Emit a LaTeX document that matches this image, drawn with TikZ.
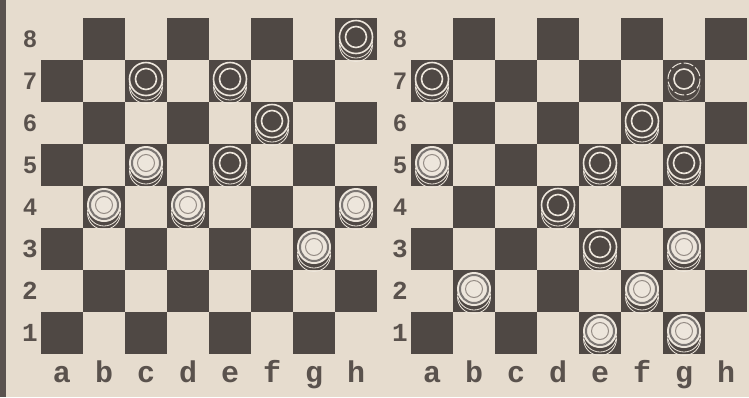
\documentclass[tikz,border=0pt]{standalone}
\usepackage{fontspec}
\newfontfamily\rankfont{Liberation Sans Bold}
\newfontfamily\filefont{Liberation Mono Bold}
\usepackage{xcolor}
\definecolor{Paper}{HTML}{E6DCCE}
\definecolor{Ink}{HTML}{4F4844}
\definecolor{Edge}{HTML}{5A534F}
\definecolor{Ring}{HTML}{EDE6DC}
\definecolor{RingGrey}{HTML}{958C85}
\definecolor{Label}{HTML}{5A524D}
\usetikzlibrary{calc}

% pieces, drawn round the centre of a square (1 unit = 1px, y down)
\newcommand{\blackpiece}[2]{%
  \begin{scope}[shift={({#1},{#2})}]
    \draw[stackarc] (16.5,6) arc[start angle=0,end angle=180,radius=16.5];
    \draw[stackarc] (16.5,2.5) arc[start angle=0,end angle=180,radius=16.5];
    \fill[Ink] (0,-2) circle (16.5);
    \draw[ring] (0,-2) circle (16.5);
    \draw[ring] (0,-2) circle (10.5);
  \end{scope}}
\newcommand{\whitepiece}[2]{%
  \begin{scope}[shift={({#1},{#2})}]
    \draw[stackarc] (16.5,6) arc[start angle=0,end angle=180,radius=16.5];
    \draw[stackarc] (16.5,2.5) arc[start angle=0,end angle=180,radius=16.5];
    \fill[Ring] (0,-2) circle (17);
    \draw[Ink!75,line width=2pt] (0,-2) circle (14);
    \draw[RingGrey,line width=1pt] (0,-2) circle (8.5);
  \end{scope}}
\newcommand{\ghostpiece}[2]{%
  \begin{scope}[shift={({#1},{#2})}]
    \draw[stackarc,Ring!60!Ink] (16,4) arc[start angle=0,end angle=180,radius=16];
    \draw[ring,line width=1pt,dash pattern=on 10pt off 2.5pt] (0,-2) circle (16);
    \draw[ring] (0,-2) circle (10);
  \end{scope}}

\begin{document}
\begin{tikzpicture}[x=1pt,y=-1pt,
  darksq/.style={fill=Ink},
  ring/.style={draw=Ring,line width=1.6pt},
  stackarc/.style={draw=Ring,line width=0.8pt},
  ranklab/.style={font=\rankfont\fontsize{24}{24}\selectfont,text=Label,inner sep=0pt},
  ranklabmono/.style={font=\filefont\fontsize{26}{26}\selectfont,text=Label,inner sep=0pt},
  filelab/.style={font=\filefont\fontsize{30}{30}\selectfont,text=Label,inner sep=0pt,anchor=base}
]
  \useasboundingbox (0,0) rectangle (749,397);
  \fill[Paper] (0,0) rectangle (749,397);
  \fill[Edge] (0,0) rectangle (6,397);

  % the two boards, a1 dark
  \foreach \bx/\bn in {41/L,411/R} {
    \foreach \i in {1,...,8} {
      \foreach \r in {1,...,8} {
        \pgfmathtruncatemacro{\odd}{mod(\i+\r,2)}
        \ifnum\odd=0
          \fill[darksq] ({\bx+(\i-1)*42},{18+(8-\r)*42}) rectangle ++(42,42);
        \fi
      }
    }
    \foreach \r in {4,...,8}
      \node[ranklab] (\bn-rank-\r) at ({\bx-11},{375-42*\r}) {\r};
    \foreach \r in {1,2,3}
      \node[ranklabmono] (\bn-rank-\r) at ({\bx-11},{375-42*\r}) {\r};
    \foreach \f [count=\i] in {a,b,c,d,e,f,g,h}
      \node[filelab] (\bn-file-\f) at ({\bx+(\i-0.5)*42},382) {\f};
  }

  % left board
  \foreach \i/\r in {8/8,3/7,5/7,6/6,5/5}
    {\blackpiece{41+(\i-0.5)*42}{375-42*\r}}
  \foreach \i/\r in {3/5,2/4,4/4,8/4,7/3}
    {\whitepiece{41+(\i-0.5)*42}{375-42*\r}}

  % right board
  \foreach \i/\r in {1/7,6/6,5/5,7/5,4/4,5/3}
    {\blackpiece{411+(\i-0.5)*42}{375-42*\r}}
  \foreach \i/\r in {1/5,7/3,2/2,6/2,5/1,7/1}
    {\whitepiece{411+(\i-0.5)*42}{375-42*\r}}
  \ghostpiece{411+6.5*42}{375-42*7}
\end{tikzpicture}
\end{document}
